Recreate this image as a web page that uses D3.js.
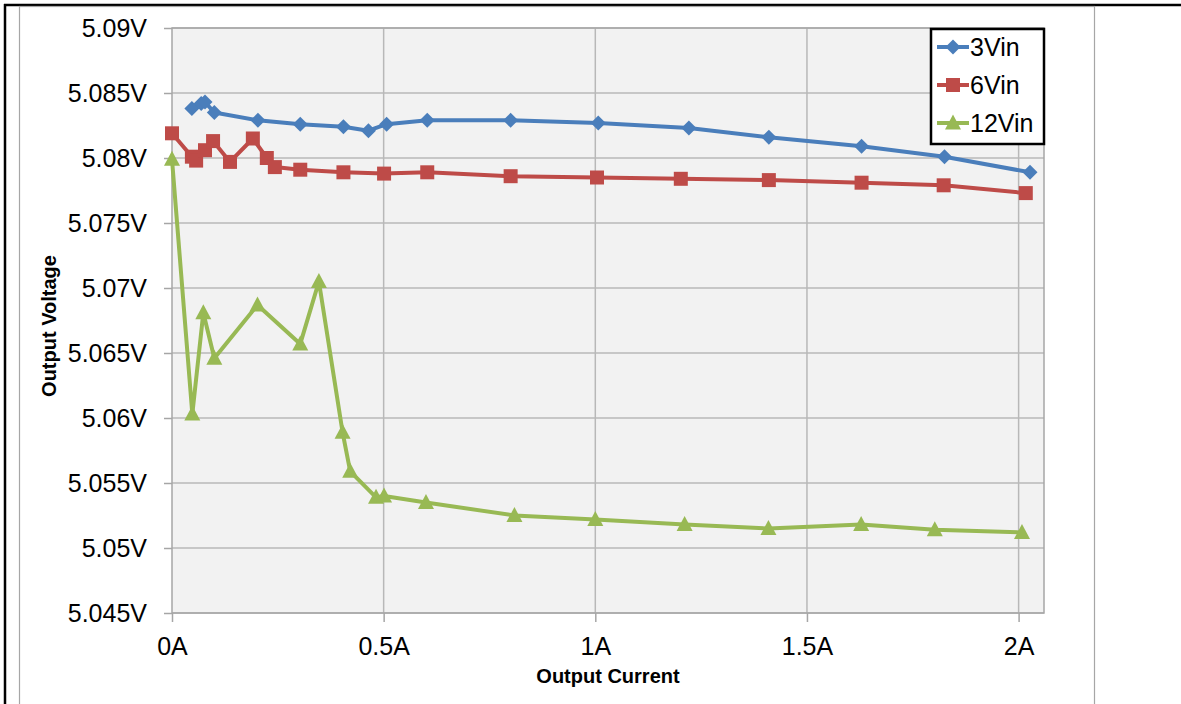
<!DOCTYPE html>
<html>
<head>
<meta charset="utf-8">
<script src="https://cdn.jsdelivr.net/npm/d3@7/dist/d3.min.js"></script>
<style>
  body { margin: 0; background: #fff; }
  text { font-family: "Liberation Sans", Arial, sans-serif; fill: #000; }
</style>
</head>
<body>
<svg id="chart" width="1181" height="704"></svg>
<script>
// Series data (current in A, voltage in V)
const current3V = [0.047, 0.069, 0.078, 0.100, 0.203, 0.303, 0.405, 0.464, 0.507, 0.603, 0.800, 1.007, 1.221, 1.410, 1.629, 1.825, 2.027];
const volts3V = [5.0838, 5.0842, 5.0843, 5.0835, 5.0829, 5.0826, 5.0824, 5.0821, 5.0826, 5.0829, 5.0829, 5.0827, 5.0823, 5.0816, 5.0809, 5.0801, 5.0789];

const current6V = [0.000, 0.047, 0.057, 0.078, 0.097, 0.137, 0.191, 0.224, 0.243, 0.303, 0.405, 0.501, 0.603, 0.800, 1.004, 1.202, 1.410, 1.629, 1.823, 2.017];
const volts6V = [5.0819, 5.0801, 5.0798, 5.0806, 5.0813, 5.0797, 5.0815, 5.0800, 5.0793, 5.0791, 5.0789, 5.0788, 5.0789, 5.0786, 5.0785, 5.0784, 5.0783, 5.0781, 5.0779, 5.0773];

const current12V = [0.000, 0.048, 0.074, 0.100, 0.202, 0.303, 0.347, 0.403, 0.421, 0.482, 0.501, 0.600, 0.809, 1.000, 1.211, 1.409, 1.628, 1.802, 2.008];
const volts12V = [5.0799, 5.0603, 5.0681, 5.0646, 5.0687, 5.0657, 5.0705, 5.0589, 5.0559, 5.0539, 5.0540, 5.0535, 5.0525, 5.0522, 5.0518, 5.0515, 5.0518, 5.0514, 5.0512];

const seriesNames = ["3Vin", "6Vin", "12Vin"];
const seriesColors = ["#4a7ebb", "#be4b48", "#98b954"];
const seriesShapes = ["diamond", "square", "triangle"];

// Axis ticks
const xTicks = [0, 0.5, 1, 1.5, 2];
const xTickLabels = ["0A", "0.5A", "1A", "1.5A", "2A"];
const yTicks = [5.045, 5.05, 5.055, 5.06, 5.065, 5.07, 5.075, 5.08, 5.085, 5.09];
const yTickLabels = ["5.045V", "5.05V", "5.055V", "5.06V", "5.065V", "5.07V", "5.075V", "5.08V", "5.085V", "5.09V"];
const xMax = 2.06;

const svg = d3.select("#chart");

// Plot area bounds
const plot = { left: 172, right: 1044, top: 28, bottom: 613 };

const x = d3.scaleLinear().domain([0, xMax]).range([plot.left, plot.right]);
const y = d3.scaleLinear().domain([5.045, 5.09]).range([plot.bottom, plot.top]);

// Outer frame (black page border + grey chart area border)
svg.append("line")
  .attr("x1", 5).attr("y1", 4).attr("x2", 5).attr("y2", 704)
  .attr("stroke", "#000").attr("stroke-width", 2.5);
svg.append("line")
  .attr("x1", 4).attr("y1", 5).attr("x2", 1181).attr("y2", 5)
  .attr("stroke", "#000").attr("stroke-width", 2.5);
svg.append("rect")
  .attr("x", 19.5).attr("y", 6.5)
  .attr("width", 1075).attr("height", 720)
  .attr("fill", "#fff")
  .attr("stroke", "#a6a6a6")
  .attr("stroke-width", 1.2);

// Plot background
svg.append("rect")
  .attr("x", plot.left).attr("y", plot.top)
  .attr("width", plot.right - plot.left)
  .attr("height", plot.bottom - plot.top)
  .attr("fill", "#f2f2f2");

// Gridlines
svg.append("g")
  .selectAll("line")
  .data(yTicks)
  .join("line")
  .attr("x1", plot.left).attr("x2", plot.right)
  .attr("y1", (d) => y(d)).attr("y2", (d) => y(d))
  .attr("stroke", "#b8b8b8").attr("stroke-width", 1.5);

svg.append("g")
  .selectAll("line")
  .data(xTicks.slice(1))
  .join("line")
  .attr("x1", (d) => x(d)).attr("x2", (d) => x(d))
  .attr("y1", plot.top).attr("y2", plot.bottom)
  .attr("stroke", "#b8b8b8").attr("stroke-width", 1.5);

// Plot border
svg.append("rect")
  .attr("x", plot.left).attr("y", plot.top)
  .attr("width", plot.right - plot.left)
  .attr("height", plot.bottom - plot.top)
  .attr("fill", "none")
  .attr("stroke", "#a6a6a6")
  .attr("stroke-width", 1.5);

// Axes
const yAxis = svg.append("g")
  .attr("transform", `translate(${plot.left},0)`)
  .call(
    d3.axisLeft(y)
      .tickValues(yTicks)
      .tickFormat((d, i) => yTickLabels[i])
      .tickSize(8)
      .tickPadding(17),
  );
yAxis.select(".domain").remove();
yAxis.selectAll(".tick line").attr("stroke", "#a6a6a6").attr("stroke-width", 1.5);
yAxis.selectAll(".tick text")
  .attr("font-size", "25px")
  .attr("font-family", "Liberation Sans, Arial, sans-serif")
  .attr("fill", "#000");

const xAxis = svg.append("g")
  .attr("transform", `translate(0,${plot.bottom})`)
  .call(
    d3.axisBottom(x)
      .tickValues(xTicks)
      .tickFormat((d, i) => xTickLabels[i])
      .tickSize(9)
      .tickPadding(15),
  );
xAxis.select(".domain").remove();
xAxis.selectAll(".tick line").attr("stroke", "#a6a6a6").attr("stroke-width", 1.5);
xAxis.selectAll(".tick text")
  .attr("font-size", "25px")
  .attr("font-family", "Liberation Sans, Arial, sans-serif")
  .attr("fill", "#000");

// Axis titles
svg.append("text")
  .attr("x", 608).attr("y", 683)
  .attr("text-anchor", "middle")
  .attr("font-size", "20px")
  .attr("font-weight", "bold")
  .text("Output Current");

svg.append("text")
  .attr("transform", "translate(56,326) rotate(-90)")
  .attr("text-anchor", "middle")
  .attr("font-size", "20px")
  .attr("font-weight", "bold")
  .text("Output Voltage");

// Marker shapes
function markerPath(shape) {
  if (shape === "diamond") return "M0,-7.5L7.5,0L0,7.5L-7.5,0Z";
  if (shape === "square") return "M-7,-7H7V7H-7Z";
  return "M0,-8.5L8,6.5H-8Z";
}

const series = [
  { name: seriesNames[0], xs: current3V, ys: volts3V, color: seriesColors[0], shape: seriesShapes[0] },
  { name: seriesNames[1], xs: current6V, ys: volts6V, color: seriesColors[1], shape: seriesShapes[1] },
  { name: seriesNames[2], xs: current12V, ys: volts12V, color: seriesColors[2], shape: seriesShapes[2] },
];

const line = d3.line()
  .x((d) => x(d[0]))
  .y((d) => y(d[1]));

// Draw series in reverse so 3Vin sits on top
series.slice().reverse().forEach((s) => {
  const pts = s.xs.map((v, i) => [v, s.ys[i]]);
  const g = svg.append("g").attr("class", "series");

  g.append("path")
    .datum(pts)
    .attr("d", line)
    .attr("fill", "none")
    .attr("stroke", s.color)
    .attr("stroke-width", 4)
    .attr("stroke-linejoin", "round");

  g.selectAll("path.marker")
    .data(pts)
    .join("path")
    .attr("class", "marker")
    .attr("transform", (d) => `translate(${x(d[0])},${y(d[1])})`)
    .attr("d", markerPath(s.shape))
    .attr("fill", s.color);
});

// Legend
const legend = svg.append("g").attr("transform", "translate(931,29)");
legend.append("rect")
  .attr("width", 113).attr("height", 115)
  .attr("fill", "#fff")
  .attr("stroke", "#000")
  .attr("stroke-width", 2.5);

series.forEach((s, i) => {
  const row = legend.append("g").attr("transform", `translate(0,${18 + i * 38})`);
  row.append("line")
    .attr("x1", 6).attr("x2", 38)
    .attr("stroke", s.color)
    .attr("stroke-width", 4);
  row.append("path")
    .attr("transform", "translate(22,0)")
    .attr("d", markerPath(s.shape))
    .attr("fill", s.color);
  row.append("text")
    .attr("x", 39).attr("dy", "0.36em")
    .attr("font-size", "25px")
    .text(s.name);
});
</script>
</body>
</html>
